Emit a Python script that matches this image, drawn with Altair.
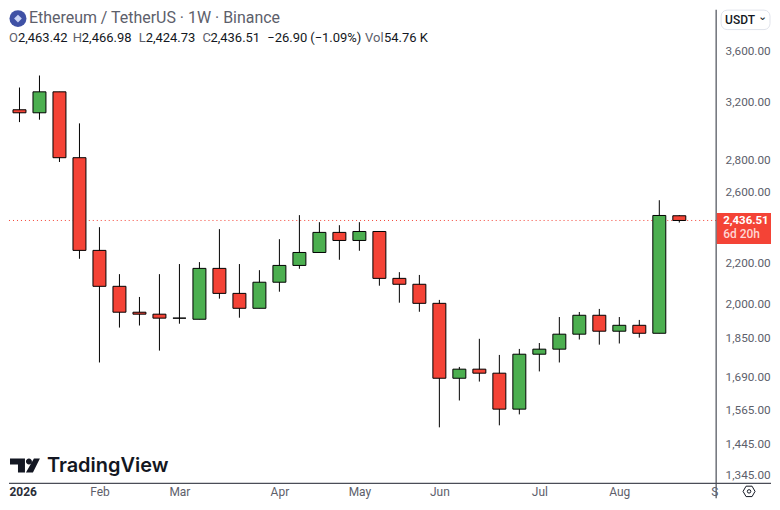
import altair as alt
import pandas as pd

# --- weekly OHLC values ---
dates = pd.date_range("2026-01-05", periods=34, freq="7D").strftime("%Y-%m-%d").tolist()
opens = [3151, 3129, 3285, 2819, 2273, 2091, 1969, 1960, 1942, 1937, 2180, 2057, 1987, 2111, 2195, 2262, 2370,
         2326, 2375, 2130, 2101, 2010, 1689, 1725, 1709, 1572, 1786, 1807, 1871, 1955, 1884, 1910, 1875, 2463.42]
highs = [3318, 3412, 3285, 3053, 2399, 2151, 2040, 2151, 2202, 2212, 2388, 2202, 2171, 2333, 2467, 2427, 2410,
         2427, 2375, 2161, 2147, 2026, 1734, 1851, 1783, 1808, 1833, 1947, 1970, 1984, 1947, 1934, 2554, 2466.98]
lows = [3062, 3079, 2791, 2229, 1752, 1900, 1909, 1801, 1917, 1937, 2032, 1944, 1987, 2065, 2178, 2262, 2224,
        2271, 2094, 2013, 1971, 1507, 1604, 1676, 1514, 1553, 1716, 1752, 1848, 1826, 1831, 1856, 1875, 2424.73]
closes = [3129, 3285, 2819, 2273, 2091, 1969, 1960, 1942, 1942, 2180, 2057, 1987, 2111, 2195, 2262, 2370, 2326,
          2375, 2130, 2101, 2010, 1689, 1725, 1709, 1572, 1786, 1807, 1871, 1955, 1884, 1910, 1875, 2465, 2436.51]

price_ticks = [3600, 3200, 2800, 2600, 2200, 2000, 1850, 1690, 1565, 1445, 1345]
month_ticks = ["2026-02-02", "2026-03-02", "2026-04-06", "2026-05-04", "2026-06-01", "2026-07-06", "2026-08-03"]
last_close = 2436.51


def ms(d):
    return int(pd.Timestamp(d, tz="UTC").timestamp() * 1000)


df = pd.DataFrame({"date": dates, "open": opens, "high": highs, "low": lows, "close": closes})
df["dir"] = ["up" if c > o else "down" for o, c in zip(opens, closes)]

# Reference pixels are page pixels; the page margin is 8px.
W, H = 709, 475
x_scale = alt.Scale(type="utc", domain=[ms("2026-01-01T08:00"), ms("2026-09-05T21:36")], padding=0)
y_scale = alt.Scale(type="log", domain=[1323, 3976], nice=False, base=10)

RED, GREEN = "#f44336", "#4caf50"
AXC, LABC, DARK = "#4a4d57", "#5d606b", "#131722"
FONT = "Roboto"

x_enc = alt.X("date:T", scale=x_scale, title=None, axis=alt.Axis(
    values=[ms(d) for d in month_ticks], labelExpr="utcFormat(datum.value,'%b')", domain=False, ticks=False, grid=False,
    labelFont=FONT, labelFontSize=12, labelColor=LABC, labelPadding=3, labelBound=False, labelFlush=False,
    labelOverlap=False))
y_axis = alt.Axis(values=price_ticks, orient="right", format=",.2f", domain=False, ticks=False, grid=False,
                  labelFont=FONT, labelFontSize=11.8, labelColor=LABC, labelPadding=9, labelOverlap=False, title=None,
                  labelOffset=-1.5)

wicks = alt.Chart(df).mark_rule(color="black", strokeWidth=1).encode(
    x=x_enc, y=alt.Y("low:Q", scale=y_scale, axis=y_axis), y2="high:Q")
bodies = alt.Chart(df).mark_bar(size=13, stroke="black", strokeWidth=1).encode(
    x=x_enc, y=alt.Y("open:Q", scale=y_scale), y2="close:Q",
    color=alt.Color("dir:N", scale=alt.Scale(domain=["up", "down"], range=[GREEN, RED]), legend=None))
price_line = alt.Chart(pd.DataFrame({"p": [last_close]})).mark_rule(
    color=RED, strokeWidth=1, strokeDash=[1, 3]).encode(y=alt.Y("p:Q", scale=y_scale))

one = alt.Data(values=[{}])


def text(s, x, y, size=12, color=DARK, weight="normal", align="left", font=FONT):
    return alt.Chart(one).mark_text(text=s, align=align, baseline="middle", fontSize=size, color=color,
                                    fontWeight=weight, font=font).encode(
        x=alt.value(x - 8), y=alt.value(y - 8))


def point(shape, x, y, size, **kw):
    return alt.Chart(one).mark_point(shape=shape, size=size, opacity=1, **kw).encode(
        x=alt.value(x - 8), y=alt.value(y - 8))


def rect(x1, x2, y1, y2, **kw):
    return alt.Chart(one).mark_rect(**kw).encode(
        x=alt.value(x1 - 8), x2=alt.value(x2 - 8), y=alt.value(y1 - 8), y2=alt.value(y2 - 8))


def hline(y, x1, x2):
    return alt.Chart(one).mark_rule(color=AXC, strokeWidth=1.2).encode(
        x=alt.value(x1), x2=alt.value(x2), y=alt.value(y))


def vline(x, y1, y2):
    return alt.Chart(one).mark_rule(color=AXC, strokeWidth=1.2).encode(
        x=alt.value(x), y=alt.value(y1), y2=alt.value(y2))


layers = [price_line, wicks, bodies, hline(H, 0, 764), vline(W, 0, 490)]

# header
layers += [point("circle", 17, 17, 289, filled=True, fill="#3f51a5", strokeWidth=0),
           point("diamond", 17, 17, 60, filled=True, fill="#c9d3f5", strokeWidth=0),
           text("Ethereum / TetherUS · 1W · Binance", 28, 16.5, size=16, color=LABC)]
segments = [("O", 8, LABC), ("2,463.42", 17, DARK), ("H", 72, LABC), ("2,466.98", 81, DARK), ("L", 138, LABC),
            ("2,424.73", 145, DARK), ("C", 202, LABC), ("2,436.51", 210, DARK), ("−26.90", 267, DARK),
            ("(−1.09%)", 310, DARK), ("Vol", 365, LABC), ("54.76 K", 384, DARK)]
layers += [text(s, x, 36, size=13, color=c) for s, x, c in segments]

# price-axis widgets
layers += [rect(722, 771, 8.5, 28, fill="white", stroke="#e0e3eb", strokeWidth=1, cornerRadius=6),
           text("USDT", 726, 18, size=12, color="#131722", weight=500),
           text("⌄", 763, 15, size=11, color="#131722", align="center"),
           rect(717.7, 772, 212, 243, fill=RED),
           text("2,436.51", 724, 220, size=11.5, color="white", weight="bold"),
           text("6d 20h", 724, 233, size=12, color="#ffd6d3", weight=500)]

# bottom strip
layers += [text("2026", 8.5, 492, size=12, color="#2a2e39", weight="bold"),
           text("S", 712, 492, size=12, color=LABC),
           point("M-1,0L-0.5,-0.87L0.5,-0.87L1,0L0.5,0.87L-0.5,0.87Z", 750, 491, 144, filled=False, stroke=DARK,
                 strokeWidth=1),
           point("circle", 750, 491, 12, filled=False, stroke=DARK, strokeWidth=1)]

# watermark
layers += [point("M-15,-7L0,-7L0,7L-7,7L-7,-1L-15,-1Z M1,-4a3,3 0 1 0 6,0a3,3 0 1 0 -6,0Z M9,-7L15,-7L8,7L1,7Z",
                 24, 465, 4, filled=True, fill="#131722", strokeWidth=0),
           text("TradingView", 46, 466, size=20, color="#131722", weight=600, font="Inter")]

chart = alt.layer(*layers).properties(width=W, height=H, padding=0, background="white").configure_view(strokeWidth=0)

chart.save("out.html", embed_options={"renderer": "svg", "actions": False})
